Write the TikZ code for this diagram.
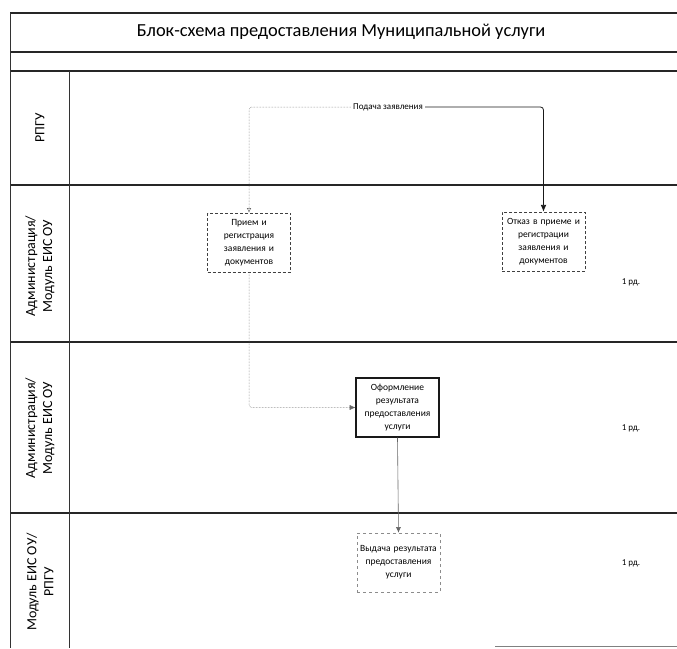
\documentclass[tikz,border=0pt]{standalone}
\usepackage{fontspec}
\setsansfont{Carlito}
\usetikzlibrary{positioning, arrows.meta}

\begin{document}
\begin{tikzpicture}[
    x=1pt, y=-1pt,
    font=\sffamily,
    lane_line/.style={line width=1.3pt, black!85},
    col_line/.style={line width=0.7pt, black!80},
    lane_label/.style={rotate=90, align=center, font=\sffamily\fontsize{14}{17}\selectfont},
    box/.style={rectangle, minimum width=83pt, minimum height=59pt,
                text width=80pt, align=center, inner sep=1pt,
                font=\sffamily\fontsize{9.5}{13}\selectfont},
    thin_box/.style={draw=black!75, densely dashed, line width=0.5pt},
    pale_box/.style={draw=black!45, dashed, line width=0.5pt},
    bold_box/.style={draw=black!90, line width=1.2pt},
    main_arrow/.style={-{Latex[length=2.4mm, width=2mm]}, line width=0.8pt, black!90, rounded corners=3pt},
    side_arrow/.style={-{Latex[length=2mm, width=1.8mm]}, densely dotted, line width=0.5pt, black!60, rounded corners=3pt},
    open_arrow/.style={-{Latex[open, length=1.6mm, width=1.5mm]}, densely dotted, line width=0.5pt, black!60, rounded corners=3pt},
    down_arrow/.style={-{Latex[length=2mm, width=1.8mm]}, line width=0.6pt, black!60},
    note/.style={font=\sffamily\fontsize{9}{11}\selectfont}
]
\useasboundingbox (0,0) rectangle (677,648);

% Frame and lanes
\draw[lane_line] (10,13) -- (677,13);
\draw[lane_line] (10,52) -- (677,52);
\draw[lane_line] (10,71) -- (677,71);
\draw[lane_line] (10,185) -- (677,185);
\draw[lane_line] (10,342) -- (677,342);
\draw[lane_line] (10,513) -- (677,513);
\draw[col_line] (10,13) -- (10,648);
\draw[col_line] (69,71) -- (69,648);
\draw[col_line, black!50] (495,646) -- (677,646);

% Title
\node[font=\sffamily\fontsize{18.4}{22}\selectfont] (title) at (341,32)
     {Блок-схема предоставления Муниципальной услуги};

% Lane labels
\node[lane_label] (rpgu) at (40,128) {РПГУ};
\node[lane_label] (admin1) at (40,266) {Администрация/\\Модуль ЕИС ОУ};
\node[lane_label] (admin2) at (40,428) {Администрация/\\Модуль ЕИС ОУ};
\node[lane_label] (modul) at (40,582) {Модуль ЕИС ОУ/\\РПГУ};

% Process boxes
\node[box, thin_box] (priem) at (249,242.5)
     {Прием и\\регистрация\\заявления и\\документов};
\node[box, thin_box] (otkaz) at (543.5,241.5)
     {Отказ в приеме и\\регистрации\\заявления и\\документов};
\node[box, bold_box] (oform) at (397.5,407.5)
     {Оформление\\результата\\предоставления\\услуги};
\node[box, pale_box] (vydacha) at (398.5,562.5)
     {Выдача результата\\предоставления\\услуги};

% Flow label
\node[note, inner sep=2pt] (podacha) at (388,107) {Подача заявления};

% Terms
\node[note] (term1) at (631,282) {1 рд.};
\node[note] (term2) at (631,428) {1 рд.};
\node[note] (term3) at (631,563) {1 рд.};

% Connectors
\draw[main_arrow] (podacha.east) -| (otkaz.north);
\draw[open_arrow] (podacha.west) -| (priem.north);
\draw[side_arrow] (priem.south) |- (oform.west);
\draw[down_arrow] (oform.south) -- (vydacha.north);

\end{tikzpicture}
\end{document}
